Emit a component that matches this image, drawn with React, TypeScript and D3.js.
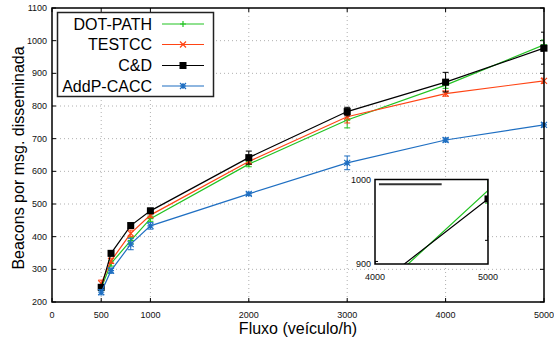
import React from "react";
import * as d3 from "d3";

const flows = [500, 600, 800, 1000, 2000, 3000, 4000, 5000];
const dotPath = [243, 318, 388, 455, 622, 757, 864, 987];
const dotPathErr = [8, 8, 10, 8, 8, 24, 10, 15];
const testcc = [257, 326, 410, 466, 630, 767, 838, 877];
const testccErr = [10, 8, 10, 8, 8, 19, 8, 8];
const cd = [245, 349, 434, 479, 642, 783, 873, 977];
const cdErr = [8, 8, 8, 8, 20, 13, 30, 49];
const addp = [230, 296, 377, 433, 531, 626, 696, 742];
const addpErr = [8, 8, 17, 10, 5, 21, 6, 6];

const xTicks = [0, 500, 1000, 2000, 3000, 4000, 5000];
const yTicks = [200, 300, 400, 500, 600, 700, 800, 900, 1000, 1100];
const insetXTicks = [4000, 5000];
const insetYTicks = [900, 1000];

type Series = { name: string; color: string; marker: string; values: number[]; err: number[] };
const series: Series[] = [
  { name: "DOT-PATH", color: "#22c322", marker: "plus", values: dotPath, err: dotPathErr },
  { name: "TESTCC", color: "#ff4414", marker: "cross", values: testcc, err: testccErr },
  { name: "C&D", color: "#000000", marker: "square", values: cd, err: cdErr },
  { name: "AddP-CACC", color: "#1f6fc2", marker: "star", values: addp, err: addpErr },
];

function Marker({ type, x, y, color }: { type: string; x: number; y: number; color: string }) {
  const s = 3;
  if (type === "square") return <rect x={x - 3.5} y={y - 3.5} width={7} height={7} fill={color} />;
  if (type === "plus")
    return (
      <path d={`M${x - s},${y}H${x + s}M${x},${y - s}V${y + s}`} stroke={color} strokeWidth={1.2} />
    );
  if (type === "cross")
    return (
      <path d={`M${x - s},${y - s}L${x + s},${y + s}M${x - s},${y + s}L${x + s},${y - s}`} stroke={color} strokeWidth={1.2} />
    );
  return (
    <path
      d={`M${x - s},${y}H${x + s}M${x},${y - s}V${y + s}M${x - s},${y - s}L${x + s},${y + s}M${x - s},${y + s}L${x + s},${y - s}`}
      stroke={color}
      strokeWidth={1.2}
    />
  );
}

function SeriesMarks({ sx, sy, showMarkers = true }: { sx: d3.ScaleLinear<number, number>; sy: d3.ScaleLinear<number, number>; showMarkers?: boolean }) {
  const line = d3.line<number>().x((_, i) => sx(flows[i])).y((v) => sy(v));
  return (
    <g>
      {series.map((s) => (
        <g key={s.name}>
          <path d={line(s.values) || ""} fill="none" stroke={s.color} strokeWidth={1.2} />
          {s.values.map((v, i) => {
            const x = sx(flows[i]);
            const y1 = sy(v - s.err[i]);
            const y2 = sy(v + s.err[i]);
            return (
              <path
                key={i}
                d={`M${x},${y1}V${y2}M${x - 3},${y1}H${x + 3}M${x - 3},${y2}H${x + 3}`}
                stroke={s.color}
                strokeWidth={1}
                fill="none"
              />
            );
          })}
          {showMarkers && s.values.map((v, i) => <Marker key={i} type={s.marker} x={sx(flows[i])} y={sy(v)} color={s.color} />)}
        </g>
      ))}
    </g>
  );
}

export default function App() {
  const W = 554;
  const H = 345;
  const L = 52, R = 544, T = 8, B = 302;
  const x = d3.scaleLinear().domain([0, 5000]).range([L, R]);
  const y = d3.scaleLinear().domain([200, 1100]).range([B, T]);

  const iL = 375, iR = 488, iT = 179.5, iB = 264;
  const ix = d3.scaleLinear().domain([4000, 5000]).range([iL, iR]);
  const iy = d3.scaleLinear().domain([900, 1000]).range([iB, iT]);

  const font = "'Liberation Sans', Arial, sans-serif";
  const legendY = [24, 44.5, 65.5, 86];

  return (
    <svg width={W} height={H} style={{ position: "absolute", left: 0, top: 0, background: "#fff" }} fontFamily={font}>
      <defs>
        <clipPath id="plotClip">
          <rect x={L} y={T} width={R - L} height={B - T} />
        </clipPath>
        <clipPath id="insetClip">
          <rect x={iL} y={iT} width={iR - iL} height={iB - iT} />
        </clipPath>
      </defs>
      <rect x={0} y={0} width={W} height={H} fill="#fff" />
      {/* grid */}
      <g stroke="#b0b0b0" strokeWidth={1} strokeDasharray="1,3">
        {yTicks.slice(1, -1).map((t) => (
          <line key={t} x1={L} x2={R} y1={y(t)} y2={y(t)} />
        ))}
        {xTicks.slice(1, -1).map((t) => (
          <line key={t} x1={x(t)} x2={x(t)} y1={T} y2={B} />
        ))}
      </g>
      {/* ticks */}
      <g stroke="#000" strokeWidth={1}>
        {yTicks.map((t) => (
          <g key={t}>
            <line x1={L} x2={L + 4} y1={y(t)} y2={y(t)} />
            <line x1={R} x2={R - 4} y1={y(t)} y2={y(t)} />
          </g>
        ))}
        {xTicks.map((t) => (
          <g key={t}>
            <line x1={x(t)} x2={x(t)} y1={B} y2={B - 4} />
            <line x1={x(t)} x2={x(t)} y1={T} y2={T + 4} />
          </g>
        ))}
      </g>
      <g fontSize={9} fill="#111">
        {yTicks.map((t) => (
          <text key={t} x={L - 5} y={y(t) + 3} textAnchor="end">
            {t}
          </text>
        ))}
        {xTicks.map((t) => (
          <text key={t} x={x(t)} y={B + 16} textAnchor="middle">
            {t}
          </text>
        ))}
      </g>
      {/* data */}
      <g clipPath="url(#plotClip)">
        <SeriesMarks sx={x} sy={y} />
      </g>
      {/* error caps on right edge are outside clip partly; draw last point markers unclipped */}
      {series.map((s) => (
        <Marker key={s.name} type={s.marker} x={x(flows[flows.length - 1])} y={y(s.values[s.values.length - 1])} color={s.color} />
      ))}
      {/* frame */}
      <rect x={L} y={T} width={R - L} height={B - T} fill="none" stroke="#000" strokeWidth={1.5} />

      {/* legend */}
      <rect x={57.5} y={12.5} width={156} height={84} fill="#fff" stroke="#222" strokeWidth={1.5} />
      {series.map((s, i) => (
        <g key={s.name}>
          <text x={152} y={legendY[i] + 5.5} textAnchor="end" fontSize={16} fill="#000">
            {s.name}
          </text>
          <line x1={162} x2={204} y1={legendY[i]} y2={legendY[i]} stroke={s.color} strokeWidth={1.2} />
          <Marker type={s.marker} x={183} y={legendY[i]} color={s.color} />
        </g>
      ))}

      {/* inset */}
      <rect x={iL} y={iT} width={iR - iL} height={iB - iT} fill="#fff" />
      <g clipPath="url(#insetClip)">
        <SeriesMarks sx={ix} sy={iy} showMarkers={false} />
        <Marker type="square" x={ix(5000)} y={iy(cd[cd.length - 1])} color="#000" />
      </g>
      <line x1={ix(4035)} x2={ix(4590)} y1={iy(994.5)} y2={iy(994.5)} stroke="#333" strokeWidth={2} />
      <rect x={iL} y={iT} width={iR - iL} height={iB - iT} fill="none" stroke="#000" strokeWidth={1.5} />
      <g fontSize={9} fill="#111">
        {insetYTicks.map((t) => (
          <text key={t} x={iL - 4} y={iy(t) + 3} textAnchor="end">
            {t}
          </text>
        ))}
        {insetXTicks.map((t) => (
          <text key={t} x={ix(t)} y={iB + 16} textAnchor="middle">
            {t}
          </text>
        ))}
      </g>

      {/* axis titles */}
      <text x={298} y={334} textAnchor="middle" fontSize={16} fill="#000">
        Fluxo (veículo/h)
      </text>
      <text transform={`translate(24,158) rotate(-90)`} textAnchor="middle" fontSize={16} fill="#000">
        Beacons por msg. disseminada
      </text>
    </svg>
  );
}
